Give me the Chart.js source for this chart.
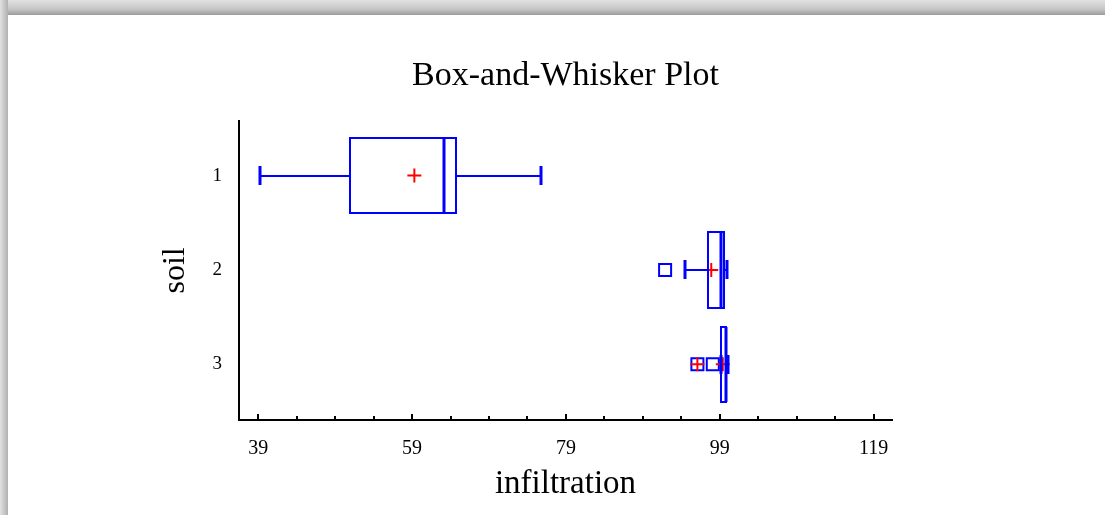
<!DOCTYPE html>
<html>
<head>
<meta charset="utf-8">
<title>Box-and-Whisker Plot</title>
<script src="https://cdn.jsdelivr.net/npm/chart.js@4.4.0/dist/chart.umd.min.js"></script>
<style>
  html, body { margin: 0; padding: 0; background: #ffffff; overflow: hidden; }
  .frame-top { position: absolute; left: 0; top: 0; width: 1105px; height: 15px; background: linear-gradient(to bottom, #e2e2e2, #c6c6c6 60%, #9c9c9c); }
  .frame-left { position: absolute; left: 0; top: 0; width: 8px; height: 515px; background: linear-gradient(to right, #e2e2e2, #b0b0b0); }
  #wrap { position: absolute; left: 0; top: 0; width: 1105px; height: 515px; }
</style>
</head>
<body>
<div class="frame-top"></div>
<div class="frame-left"></div>
<div id="wrap"><canvas id="boxChart" width="1105" height="515"></canvas></div>
<script>
// box-and-whisker stats per soil
const soils = [1, 2, 3];
const mins = [39.25, 94.5, 99.2];
const q1s = [50.9, 97.5, 99.2];
const medians = [63.2, 99.2, 99.8];
const q3s = [64.7, 99.5, 99.8];
const maxs = [75.7, 99.9, 100.1];
const means = [59.3, 97.9, 99.4];

const outsideSoil = [2, 3];
const outsideValue = [91.9, 98.1];
const farOutsideSoil = [3];
const farOutsideValue = [96.1];

const xTickValues = [39, 59, 79, 99, 119];

const BLUE = '#0000ff';
const RED = '#ff0000';
const SERIF = "'Liberation Serif', 'Times New Roman', serif";
const BOX_HALF = 0.4;
const CAP_HALF = 0.1;
const MINOR_STEP = 5;

const boxWhiskerPlugin = {
    id: 'boxWhisker',
    afterDatasetsDraw(chart) {
        const { ctx } = chart;
        const x = chart.scales.x;
        const y = chart.scales.y;
        const px = (v) => Math.round(x.getPixelForValue(v));
        const py = (v) => Math.round(y.getPixelForValue(v));
        ctx.save();
        ctx.strokeStyle = BLUE;
        soils.forEach((s, i) => {
            const yc = py(s);
            const yt = py(s - BOX_HALF);
            const yb = py(s + BOX_HALF);
            const capT = py(s - CAP_HALF);
            const capB = py(s + CAP_HALF);
            const xMin = px(mins[i]);
            const xQ1 = px(q1s[i]);
            const xMed = px(medians[i]);
            const xQ3 = px(q3s[i]);
            const xMax = px(maxs[i]);

            ctx.lineWidth = 2;
            ctx.beginPath();
            ctx.moveTo(xMin, yc); ctx.lineTo(xQ1, yc);
            ctx.moveTo(xQ3, yc); ctx.lineTo(xMax, yc);
            ctx.stroke();

            ctx.lineWidth = 3;
            ctx.beginPath();
            ctx.moveTo(xMin, capT); ctx.lineTo(xMin, capB);
            ctx.moveTo(xMax, capT); ctx.lineTo(xMax, capB);
            ctx.stroke();

            ctx.lineWidth = 2;
            ctx.strokeRect(xQ1, yt, xQ3 - xQ1, yb - yt);
            ctx.lineWidth = 3;
            ctx.beginPath();
            ctx.moveTo(xMed, yt); ctx.lineTo(xMed, yb);
            ctx.stroke();
        });
        ctx.restore();
    },
    afterDraw(chart) {
        // tick marks point up into the plot, minor every 5
        const { ctx, chartArea } = chart;
        const x = chart.scales.x;
        const first = xTickValues[0];
        const last = xTickValues[xTickValues.length - 1];
        ctx.save();
        ctx.strokeStyle = '#000000';
        ctx.lineWidth = 2;
        ctx.beginPath();
        for (let v = first; v <= last; v += MINOR_STEP) {
            const p = Math.round(x.getPixelForValue(v));
            const len = xTickValues.includes(v) ? 6 : 4;
            ctx.moveTo(p, chartArea.bottom);
            ctx.lineTo(p, chartArea.bottom - len);
        }
        ctx.stroke();
        ctx.restore();
    }
};

const ctx = document.getElementById('boxChart').getContext('2d');

new Chart(ctx, {
    type: 'scatter',
    data: {
        datasets: [
            {
                label: 'Mean',
                data: soils.map((s, i) => ({ x: means[i], y: s })),
                pointStyle: 'cross',
                pointRadius: 7,
                borderColor: RED,
                borderWidth: 2
            },
            {
                label: 'Far outside mark',
                data: farOutsideSoil.map((s, i) => ({ x: farOutsideValue[i], y: s })),
                pointStyle: 'cross',
                pointRadius: 7,
                borderColor: RED,
                borderWidth: 2
            },
            {
                label: 'Far outside',
                data: farOutsideSoil.map((s, i) => ({ x: farOutsideValue[i], y: s })),
                pointStyle: 'rect',
                pointRadius: 8.5,
                borderColor: BLUE,
                backgroundColor: 'rgba(0,0,0,0)',
                borderWidth: 2
            },
            {
                label: 'Outside',
                data: outsideSoil.map((s, i) => ({ x: outsideValue[i], y: s })),
                pointStyle: 'rect',
                pointRadius: 8.5,
                borderColor: BLUE,
                backgroundColor: 'rgba(0,0,0,0)',
                borderWidth: 2
            }
        ]
    },
    options: {
        responsive: false,
        animation: false,
        events: [],
        layout: {
            padding: { left: 150, right: 213, top: 0, bottom: 0 }
        },
        plugins: {
            legend: { display: false },
            tooltip: { enabled: false },
            title: {
                display: true,
                text: 'Box-and-Whisker Plot',
                fullSize: false,
                color: '#000000',
                font: { family: SERIF, size: 34, weight: 'normal' },
                padding: { top: 56, bottom: 24 }
            }
        },
        scales: {
            x: {
                type: 'linear',
                min: 36.5,
                max: 121.4,
                afterBuildTicks: (scale) => {
                    scale.ticks = xTickValues.map(v => ({ value: v }));
                },
                afterFit: (scale) => {
                    scale.height = 95;
                },
                grid: { display: false, drawTicks: false },
                border: { display: true, color: '#000000', width: 2 },
                ticks: {
                    color: '#000000',
                    font: { family: SERIF, size: 20 },
                    padding: 17,
                    maxRotation: 0,
                    callback: (v) => String(v)
                },
                title: {
                    display: true,
                    text: 'infiltration',
                    color: '#000000',
                    font: { family: SERIF, size: 33 },
                    padding: { top: 0, bottom: 11 }
                }
            },
            y: {
                type: 'linear',
                reverse: true,
                min: 0.42,
                max: 3.59,
                afterBuildTicks: (scale) => {
                    scale.ticks = soils.map(v => ({ value: v }));
                },
                afterFit: (scale) => {
                    scale.width = 89;
                },
                grid: { display: false, drawTicks: false },
                border: { display: true, color: '#000000', width: 2 },
                ticks: {
                    color: '#000000',
                    font: { family: SERIF, size: 19 },
                    padding: 17,
                    callback: (v) => String(v)
                },
                title: {
                    display: true,
                    text: 'soil',
                    color: '#000000',
                    font: { family: SERIF, size: 32 },
                    padding: { top: 6, bottom: 0 }
                }
            }
        }
    },
    plugins: [boxWhiskerPlugin]
});
</script>
</body>
</html>
